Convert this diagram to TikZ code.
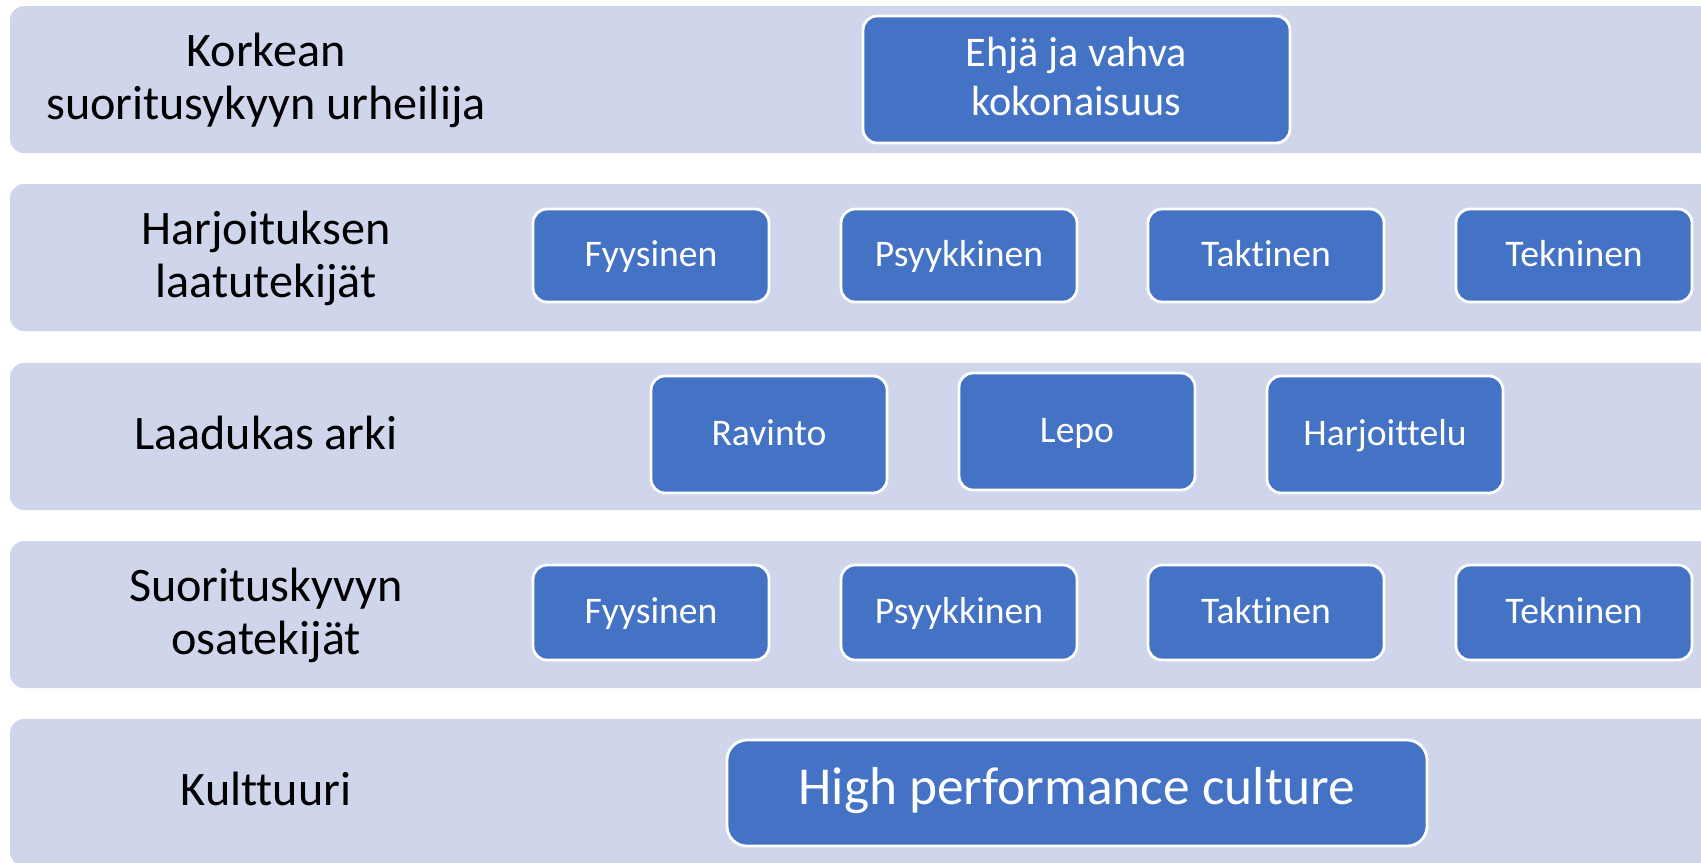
\documentclass[tikz,border=0pt]{standalone}
\usepackage{fontspec}
\setmainfont{Carlito}[Ligatures=CommonOff]

\begin{document}
\begin{tikzpicture}[
  rowtitle/.style={align=center,text depth=0pt,font=\fontsize{13.7}{15}\selectfont},
  factor/.style={fill=factor_fill,draw=white,line width=0.8pt,rounded corners=0.14cm,
    text=white,inner sep=0pt,minimum width=2.36cm,text height=0.632em,text depth=0pt,
    font=\fontsize{10.7}{12.8}\selectfont}
]
%\draw[gray] (0,0) grid (17,-9);

\definecolor{band_fill}{HTML}{CFD5EA}
\definecolor{factor_fill}{HTML}{4472C4}

\useasboundingbox (0,0) rectangle (17.01,-8.62);
\clip (0,0) rectangle (17.01,-8.62);

% bands
\foreach \y in {0.06,1.84,3.63,5.41,7.19}{
\fill[band_fill,rounded corners=0.14cm] (0.10,-\y) rectangle ++(17.5,-1.47);
}

% row titles
\foreach \y/\nm/\txt in {0.765/athlete/{Korkean\\suoritusykyyn urheilija},
  2.545/training/{Harjoituksen\\laatutekijät},
  4.33/everyday/{Laadukas arki},
  6.115/components/{Suorituskyvyn\\osatekijät},
  7.885/culture/{Kulttuuri}}{
\node[rowtitle] (\nm) at (2.66,-\y) {\txt};
}

% top row
\node[factor,minimum width=4.27cm,minimum height=1.27cm,text height=,text depth=1.7pt,
  align=center,font=\fontsize{12}{13.9}\selectfont] (whole) at (10.765,-0.795) {Ehjä ja vahva\\kokonaisuus};

% training and performance rows
\foreach \x/\nm/\txt in {6.51/fyys/Fyysinen,9.59/psyyk/Psyykkinen,12.66/takt/Taktinen,15.74/tekn/Tekninen}{
\node[factor,minimum height=0.93cm] (train_\nm) at (\x,-2.555) {\txt};
\node[factor,minimum height=0.95cm] (perf_\nm) at (\x,-6.125) {\txt};
}

% everyday row
\foreach \x/\y/\nm/\txt in {7.69/4.345/food/Ravinto,10.77/4.315/rest/Lepo,13.85/4.345/practice/Harjoittelu}{
\node[factor,minimum height=1.17cm] (\nm) at (\x,-\y) {\txt};
}

% culture row
\node[factor,minimum width=7.0cm,minimum height=1.06cm,rounded corners=0.2cm,
  font=\fontsize{15.2}{18.2}\selectfont] (hpc) at (10.77,-7.93) {High performance culture};

\end{tikzpicture}
\end{document}
